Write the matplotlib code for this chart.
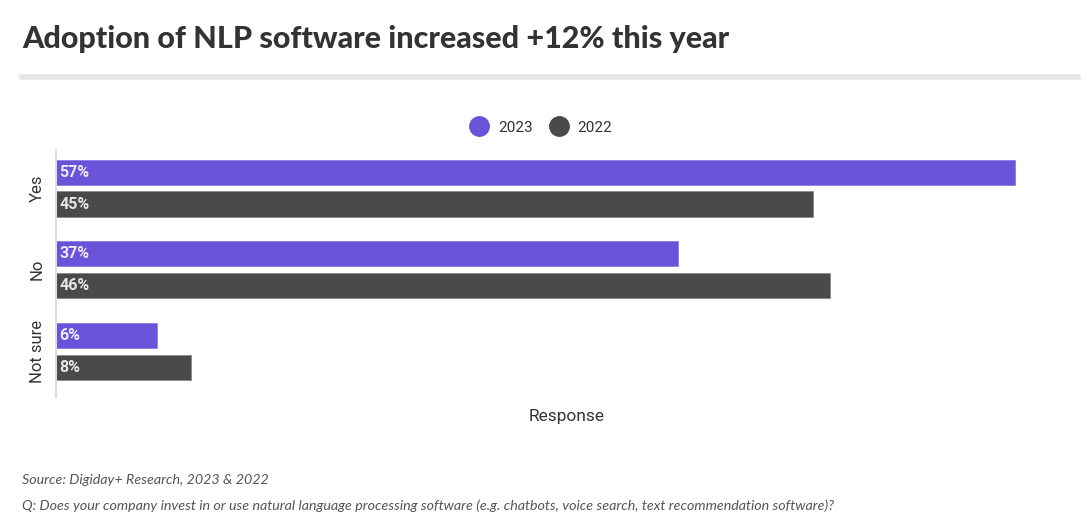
import matplotlib.pyplot as plt
import numpy as np
from matplotlib.lines import Line2D

categories = ['Yes', 'No', 'Not sure']
v2023 = [57, 37, 6]
v2022 = [45, 46, 8]

purple = '#6b53d9'
dark = '#4a4a4a'

fig = plt.figure(figsize=(10.88, 5.30), dpi=100)
ax = fig.add_axes([56/1088, 133/530, 1009/1088, 247/530])

y = np.arange(len(categories))
h = 0.307
off = 0.387/2
ax.barh(y - off, v2023, height=h, color=purple, edgecolor='#8c7ae3', linewidth=0.6)
ax.barh(y + off, v2022, height=h, color=dark, edgecolor='#888888', linewidth=0.6)

for i in range(len(categories)):
    ax.text(0.2, y[i] - off, '%d%%' % v2023[i], va='center', ha='left',
            color='#ece9fb', fontsize=11.5, fontweight='bold', family='Roboto')
    ax.text(0.2, y[i] + off, '%d%%' % v2022[i], va='center', ha='left',
            color='#e6e6e6', fontsize=11.5, fontweight='bold', family='Roboto')

ax.set_xlim(0, 60)
ax.set_ylim(2 + 0.561, -0.469)
ax.set_yticks(y)
ax.set_yticklabels(categories, rotation=90, va='center', fontsize=12, color='#333333', family='Roboto')
ax.tick_params(axis='y', length=0, pad=8)
ax.set_xticks([])
for s in ['top', 'right', 'bottom']:
    ax.spines[s].set_visible(False)
ax.spines['left'].set_color('#dddddd')
ax.spines['left'].set_linewidth(1.5)
ax.set_xlabel('Response', fontsize=12.5, color='#333333', family='Roboto')
ax.xaxis.set_label_coords(511/1009, -12/247)

# legend
handles = [Line2D([], [], marker='o', ls='', color=purple, markersize=14),
           Line2D([], [], marker='o', ls='', color=dark, markersize=14)]
fig.legend(handles, ['2023', '2022'], loc='center', bbox_to_anchor=(538/1088, 1 - 127.5/530),
           ncol=2, frameon=False, handletextpad=0.25, columnspacing=0.7,
           prop={'family': 'Roboto', 'size': 11})
for t in fig.legends[0].get_texts():
    t.set_color('#333333')

# title and rule
fig.text(22/1088, 1 - 39/530, 'Adoption of NLP software increased +12% this year',
         fontsize=22, fontweight='black', family='Lato', color='#333333', va='center')
fig.add_artist(Line2D([22/1088, 1078/1088], [1 - 76.5/530, 1 - 76.5/530],
                      color='#e6e6e6', linewidth=4, transform=fig.transFigure))

fig.text(22/1088, 1 - 480/530, 'Source: Digiday+ Research, 2023 & 2022',
         fontsize=10.3, style='italic', family='Lato', color='#555555', va='center')
fig.text(22/1088, 1 - 506/530,
         'Q: Does your company invest in or use natural language processing software (e.g. chatbots, voice search, text recommendation software)?',
         fontsize=10.3, style='italic', family='Lato', color='#555555', va='center')

plt.savefig('out.png', dpi=100)
